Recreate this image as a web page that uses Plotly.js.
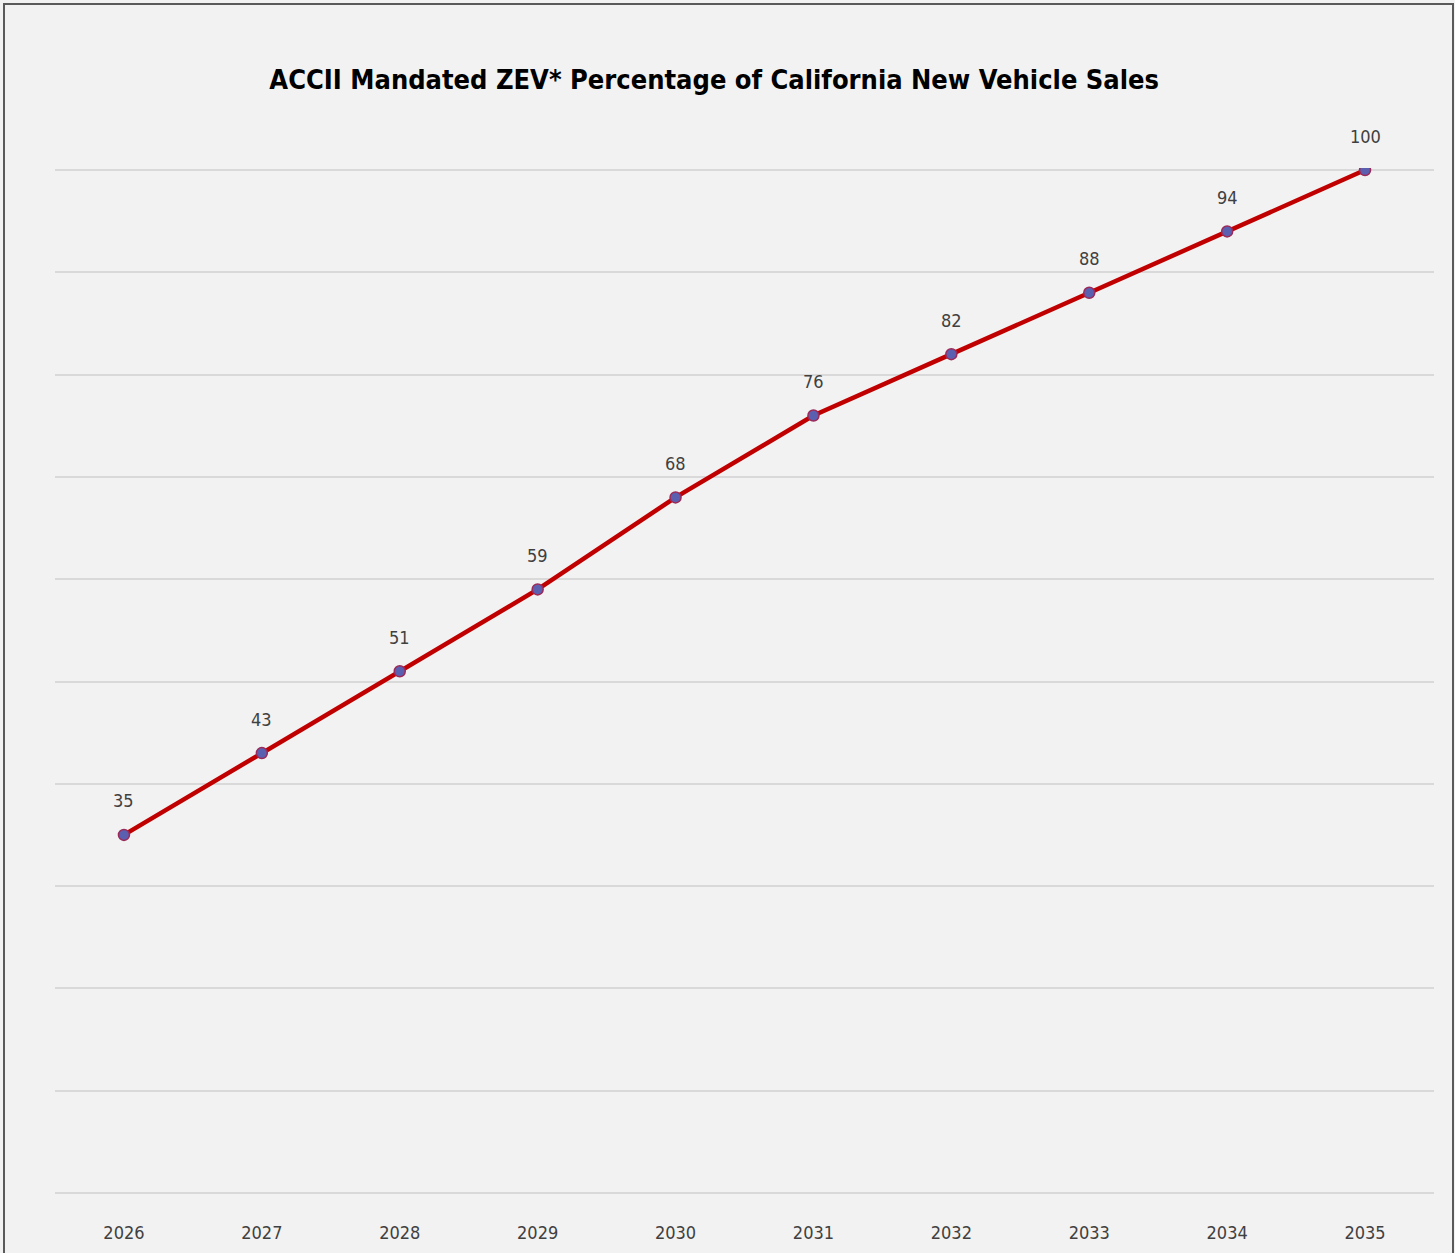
<!DOCTYPE html>
<html><head><meta charset="utf-8">
<script src="https://cdn.plot.ly/plotly-3.0.1.min.js"></script>
<style>
html,body{margin:0;padding:0;background:#ffffff;}
#wrap{position:relative;width:1455px;height:1253px;overflow:hidden;}
#chart{position:absolute;left:0;top:0;width:1455px;height:1253px;}
#frame{position:absolute;left:3px;top:3px;width:1447px;height:1260px;border:2px solid #5a5a5a;pointer-events:none;}
</style></head>
<body>
<div id="wrap"><div id="chart"></div><div id="frame"></div></div>
<script>
const years = ['2026','2027','2028','2029','2030','2031','2032','2033','2034','2035'];
const zevPercent = [35, 43, 51, 59, 68, 76, 82, 88, 94, 100];
const gridValues = [0, 10, 20, 30, 40, 50, 60, 70, 80, 90, 100];
const chartTitle = 'ACCII Mandated ZEV* Percentage of California New Vehicle Sales';

const FONT = '"DejaVu Sans Condensed", "Liberation Sans", Arial, sans-serif';

const trace = {
  x: years, y: zevPercent, type: 'scatter', mode: 'lines+markers',
  line: {color: '#c00000', width: 4.5},
  marker: {size: 11, color: '#5b5fb0', line: {color: '#9b2a5a', width: 1.5}},
  hoverinfo: 'x+y'
};

const annotations = years.map((yr, i) => ({
  x: i, y: zevPercent[i], xref: 'x', yref: 'y', text: String(zevPercent[i]),
  showarrow: false, yshift: 34, font: {family: FONT, size: 18, color: '#404040'}
}));

const layout = {
  width: 1455, height: 1253,
  paper_bgcolor: '#f2f2f2', plot_bgcolor: '#f2f2f2',
  margin: {l: 55, r: 21, t: 168, b: 58},
  showlegend: false,
  title: {text: chartTitle, font: {family: FONT, size: 27, color: '#000000', weight: 'bold'},
          x: 0.478, xref: 'paper', xanchor: 'center', y: 1 - 80/1253, yref: 'container', yanchor: 'middle'},
  xaxis: {type: 'category', range: [-0.5, years.length - 0.5], autorange: false,
          showgrid: false, zeroline: false, showline: false,
          ticks: '', ticklabelstandoff: 25,
          tickfont: {family: FONT, size: 18, color: '#404040'}},
  yaxis: {range: [-0.2, 100.2], autorange: false, tickvals: gridValues,
          showgrid: true, gridcolor: '#d9d9d9', gridwidth: 2,
          zeroline: false, showline: false, showticklabels: false, ticks: ''},
  annotations: annotations
};

Plotly.newPlot('chart', [trace], layout, {displayModeBar: false, staticPlot: true});
</script>
</body></html>
